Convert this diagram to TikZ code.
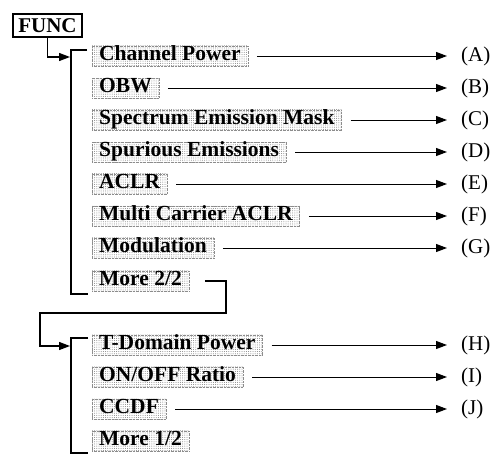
\documentclass[tikz,border=0pt]{standalone}
\usepackage{fontspec}
\setmainfont{Liberation Serif}
\usetikzlibrary{arrows.meta, positioning, patterns.meta}
\tikzset{
  itembox/.style={anchor=west, font=\fontsize{21.5}{21.5}\selectfont\bfseries,
    text height=14pt, text depth=4.5pt, inner xsep=7pt, inner ysep=1pt,
    pattern={Dots[radius=0.5pt,distance=2.2pt]}, pattern color=black!50,
    draw=black!45, densely dotted},
  lbl/.style={anchor=west, font=\fontsize{21}{21}\selectfont, inner sep=2pt},
  arr/.style={-{Triangle[length=11pt,width=8pt]}, line width=1pt},
  brk/.style={line width=1.8pt},
}

\begin{document}
\begin{tikzpicture}[x=1pt, y={(0pt,-1pt)}]
\useasboundingbox (0,0) rectangle (493,455);

% func key
\node[draw, line width=2pt, font=\fontsize{21}{21}\selectfont\bfseries,
  text height=14pt, text depth=0pt, inner xsep=5.5pt, inner ysep=4.5pt] (func) at (47.5,25.5) {FUNC};

% page 1/2
\draw[brk] (87,50) -- (71,50) -- (71,294) -- (88,294);
\coordinate (inA) at (70,57);
\draw[arr, line width=1.3pt] (func.south) |- (inA);

\foreach \y/\nm/\txt/\lab in {
    56/i1/{Channel Power}/A,
    88/i2/OBW/B,
    120/i3/{Spectrum Emission Mask}/C,
    152/i4/{Spurious Emissions}/D,
    184/i5/ACLR/E,
    216/i6/{Multi Carrier ACLR}/F,
    248/i7/Modulation/G}{
  \node[itembox] (\nm) at (92,\y) {\txt};
  \node[lbl] (l\nm) at (459,\y) {(\lab)};
  \draw[arr] ([xshift=9pt]\nm.east) -- ([xshift=-12pt]l\nm.west);
}
\node[itembox] (more2) at (92,281) {More 2/2};

% page 2/2
\draw[brk] (88,338) -- (71,338) -- (71,453) -- (88,453);
\coordinate (inB) at (70,346);
\draw[arr, line width=1.3pt] ([xshift=16pt]more2.east) -| (226,313) -| (40,346) -- (inB);

\foreach \y/\nm/\txt/\lab in {
    345/j1/{T-Domain Power}/H,
    377/j2/{ON/OFF Ratio}/I,
    409/j3/CCDF/J}{
  \node[itembox] (\nm) at (92,\y) {\txt};
  \node[lbl] (l\nm) at (459,\y) {(\lab)};
  \draw[arr] ([xshift=9pt]\nm.east) -- ([xshift=-12pt]l\nm.west);
}
\node[itembox] (more1) at (92,441) {More 1/2};
\end{tikzpicture}
\end{document}
